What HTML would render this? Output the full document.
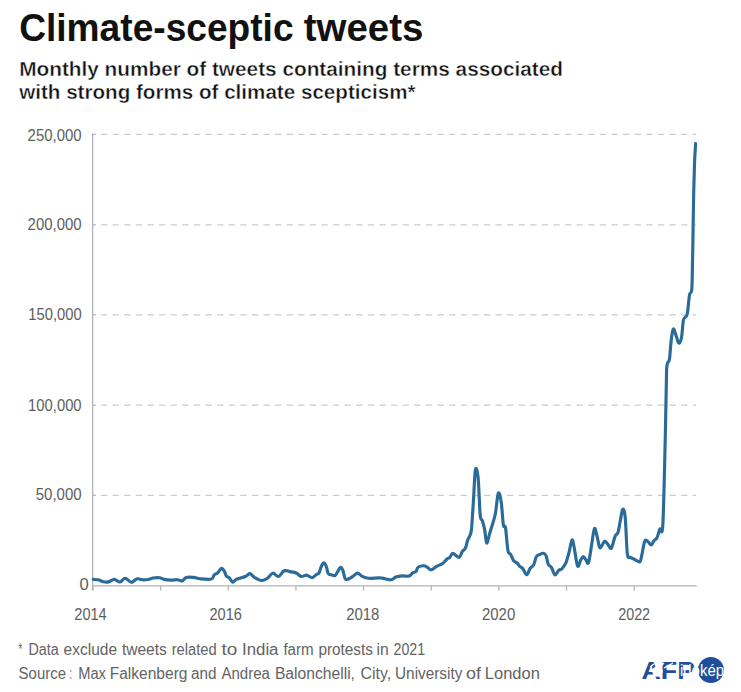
<!DOCTYPE html>
<html><head><meta charset="utf-8">
<style>
html,body{margin:0;padding:0;background:#fff;}
body{width:741px;height:692px;position:relative;overflow:hidden;font-family:"Liberation Sans",sans-serif;}
svg{position:absolute;left:0;top:0;}
</style></head><body>
<svg width="741" height="692" viewBox="0 0 741 692">
<g font-family="Liberation Sans, sans-serif" font-weight="bold" fill="#111">
<g font-size="38.3"><text x="19.20" y="41.00" textLength="274.37" lengthAdjust="spacingAndGlyphs">Climate-sceptic</text><text x="303.70" y="41.00" textLength="119.69" lengthAdjust="spacingAndGlyphs">tweets</text></g>
<text x="19.2" y="75.9" font-size="20" stroke="#fff" stroke-width="0.4" textLength="543.8" lengthAdjust="spacingAndGlyphs">Monthly number of tweets containing terms associated</text>
<text x="19.2" y="99.2" font-size="20" stroke="#fff" stroke-width="0.4" textLength="396.3" lengthAdjust="spacingAndGlyphs">with strong forms of climate scepticism*</text>
</g>
<g stroke="#cccccc" stroke-width="1.15" stroke-dasharray="6.3 5.3"><line x1="101.05" y1="134.4" x2="696" y2="134.4"/><line x1="101.05" y1="224.9" x2="696" y2="224.9"/><line x1="101.05" y1="314.8" x2="696" y2="314.8"/><line x1="101.05" y1="405.1" x2="696" y2="405.1"/><line x1="101.05" y1="495.3" x2="696" y2="495.3"/></g>
<g stroke="#b3b3b3" stroke-width="1.3">
<line x1="92.6" y1="133.5" x2="92.6" y2="590.5"/>
<line x1="92" y1="585.8" x2="696.8" y2="585.8"/>
<line x1="92.9" y1="585.8" x2="92.9" y2="590.5"/><line x1="160.6" y1="585.8" x2="160.6" y2="590.5"/><line x1="228.2" y1="585.8" x2="228.2" y2="590.5"/><line x1="295.9" y1="585.8" x2="295.9" y2="590.5"/><line x1="363.5" y1="585.8" x2="363.5" y2="590.5"/><line x1="431.2" y1="585.8" x2="431.2" y2="590.5"/><line x1="498.9" y1="585.8" x2="498.9" y2="590.5"/><line x1="566.5" y1="585.8" x2="566.5" y2="590.5"/><line x1="634.2" y1="585.8" x2="634.2" y2="590.5"/>
<line x1="92.6" y1="134.4" x2="95.8" y2="134.4"/><line x1="92.6" y1="224.9" x2="95.8" y2="224.9"/><line x1="92.6" y1="314.8" x2="95.8" y2="314.8"/><line x1="92.6" y1="405.1" x2="95.8" y2="405.1"/><line x1="92.6" y1="495.3" x2="95.8" y2="495.3"/>
</g>
<g font-family="Liberation Sans, sans-serif" font-size="16.6" fill="#5e5e5e"><text x="81.6" y="141.2" text-anchor="end" textLength="54.0" lengthAdjust="spacingAndGlyphs">250,000</text><text x="81.6" y="230.3" text-anchor="end" textLength="54.0" lengthAdjust="spacingAndGlyphs">200,000</text><text x="81.6" y="319.5" text-anchor="end" textLength="53.3" lengthAdjust="spacingAndGlyphs">150,000</text><text x="81.6" y="411.4" text-anchor="end" textLength="53.5" lengthAdjust="spacingAndGlyphs">100,000</text><text x="81.6" y="499.9" text-anchor="end" textLength="45.9" lengthAdjust="spacingAndGlyphs">50,000</text><text x="88.8" y="589.6" text-anchor="end">0</text></g>
<g font-family="Liberation Sans, sans-serif" font-size="16.2" fill="#5e5e5e"><text x="74.30" y="620.20" textLength="32.40" lengthAdjust="spacingAndGlyphs">2014</text><text x="209.50" y="620.20" textLength="32.40" lengthAdjust="spacingAndGlyphs">2016</text><text x="346.20" y="620.20" textLength="33.20" lengthAdjust="spacingAndGlyphs">2018</text><text x="482.00" y="620.20" textLength="33.20" lengthAdjust="spacingAndGlyphs">2020</text><text x="618.20" y="620.20" textLength="31.90" lengthAdjust="spacingAndGlyphs">2022</text></g>
<path d="M93.4,579.4 C94.2,579.5 96.4,579.4 98.1,579.8 C99.8,580.2 101.7,581.4 103.4,581.7 C105.2,582.1 106.8,582.3 108.6,581.9 C110.4,581.5 112.4,579.3 114.3,579.3 C116.2,579.3 118.2,582.2 120.0,582.0 C121.8,581.8 123.3,578.2 125.2,578.2 C127.1,578.2 129.3,582.2 131.3,582.3 C133.3,582.4 135.1,579.2 137.0,578.8 C138.9,578.4 140.6,579.7 142.6,579.8 C144.6,579.9 147.3,579.6 149.1,579.3 C150.8,579.0 151.3,578.3 153.1,578.0 C154.8,577.7 157.7,577.5 159.6,577.7 C161.5,577.9 162.5,579.0 164.4,579.4 C166.3,579.8 168.7,580.0 170.9,580.1 C173.1,580.2 175.5,579.6 177.4,579.7 C179.3,579.8 180.7,581.3 182.2,580.9 C183.7,580.5 184.4,578.0 186.3,577.4 C188.2,576.8 191.3,577.2 193.6,577.4 C195.9,577.6 197.1,578.5 200.1,578.8 C203.1,579.1 209.0,579.8 211.3,579.1 C213.7,578.4 213.2,575.8 214.2,574.8 C215.2,573.8 216.2,574.3 217.4,573.2 C218.6,572.1 220.3,568.7 221.5,568.4 C222.7,568.1 223.5,569.9 224.3,571.2 C225.1,572.5 225.5,574.9 226.3,576.0 C227.1,577.1 228.0,576.7 229.1,577.7 C230.2,578.7 231.6,581.8 232.8,582.1 C234.0,582.4 234.3,580.2 236.4,579.3 C238.5,578.4 243.1,577.5 245.3,576.5 C247.5,575.5 248.3,573.5 249.8,573.6 C251.3,573.7 252.4,576.1 254.3,577.3 C256.2,578.4 259.0,580.3 261.1,580.5 C263.2,580.7 265.2,579.7 267.1,578.5 C269.1,577.3 270.9,573.5 272.8,573.2 C274.7,572.9 276.6,576.9 278.5,576.5 C280.4,576.1 282.2,571.6 284.1,570.8 C286.0,570.0 287.8,571.2 289.8,571.6 C291.8,572.0 294.4,572.2 296.3,573.0 C298.2,573.8 299.4,576.1 301.2,576.5 C302.9,576.9 305.0,575.0 306.8,575.2 C308.6,575.4 310.6,577.8 312.1,577.7 C313.7,577.6 315.0,575.5 316.1,574.7 C317.2,573.9 318.2,574.1 318.9,573.1 C319.6,572.1 319.8,570.3 320.5,568.6 C321.2,566.9 322.4,563.4 323.4,563.0 C324.3,562.6 325.4,564.5 326.2,566.2 C327.0,568.0 327.4,572.1 328.2,573.5 C329.0,574.9 330.0,574.4 331.1,574.7 C332.2,575.0 334.0,576.0 335.1,575.5 C336.2,575.0 336.6,573.2 337.5,571.9 C338.4,570.5 339.5,567.7 340.4,567.4 C341.3,567.1 342.0,568.3 342.8,570.2 C343.6,572.1 344.3,577.2 345.2,578.7 C346.1,580.2 346.9,579.4 348.1,579.1 C349.3,578.8 350.9,577.7 352.5,576.7 C354.1,575.7 355.8,573.2 357.4,573.1 C359.0,573.0 360.3,575.4 362.2,576.3 C364.1,577.2 366.0,578.0 369.0,578.3 C372.0,578.6 376.8,577.6 380.4,577.9 C384.0,578.1 388.3,579.9 390.9,579.8 C393.5,579.7 393.9,577.8 395.8,577.1 C397.7,576.5 400.0,576.1 402.2,575.9 C404.4,575.7 407.3,576.6 409.1,576.1 C410.9,575.6 411.7,573.5 412.8,572.7 C413.9,571.9 415.1,572.5 416.0,571.5 C416.9,570.5 416.9,567.9 418.4,567.0 C419.9,566.1 423.1,565.5 425.2,566.0 C427.3,566.5 428.9,569.7 430.8,569.8 C432.7,569.9 434.5,567.5 436.5,566.4 C438.5,565.3 441.3,564.5 443.0,563.3 C444.7,562.1 445.8,560.0 446.9,559.0 C448.0,558.0 448.9,558.2 449.9,557.3 C450.9,556.4 451.4,553.4 452.9,553.4 C454.4,553.4 457.4,557.7 459.0,557.3 C460.6,556.9 461.4,552.8 462.5,551.2 C463.6,549.7 464.6,549.9 465.5,548.0 C466.4,546.1 466.9,542.1 467.7,540.0 C468.5,537.9 469.5,537.1 470.1,535.1 C470.8,533.1 471.0,534.4 471.6,527.9 C472.2,521.4 473.1,505.8 473.7,496.1 C474.3,486.4 474.7,472.7 475.4,469.6 C476.1,466.5 477.3,469.8 478.1,477.3 C478.9,484.9 479.5,507.7 480.2,514.9 C480.9,522.1 481.7,518.3 482.4,520.7 C483.1,523.1 483.9,525.7 484.6,529.4 C485.3,533.1 485.9,542.3 486.7,543.0 C487.5,543.7 488.6,536.8 489.6,533.7 C490.6,530.6 491.5,527.7 492.5,524.3 C493.5,520.9 494.4,518.7 495.4,513.5 C496.4,508.3 497.3,495.2 498.3,493.3 C499.3,491.4 500.4,496.6 501.2,501.9 C502.0,507.2 502.7,520.7 503.4,525.0 C504.1,529.3 504.7,523.6 505.5,527.9 C506.3,532.2 507.1,546.4 508.0,550.8 C508.9,555.2 509.7,552.6 510.6,554.3 C511.6,556.0 512.6,559.3 513.7,560.8 C514.8,562.2 516.1,562.1 517.1,563.0 C518.1,563.9 518.8,565.5 519.7,566.4 C520.7,567.3 521.6,567.2 522.8,568.6 C524.0,570.0 525.5,574.9 526.7,574.8 C527.9,574.7 529.1,569.8 530.2,568.2 C531.4,566.6 532.6,567.0 533.6,565.1 C534.6,563.2 535.2,558.7 536.2,556.9 C537.2,555.1 538.5,555.1 539.7,554.5 C540.9,553.9 542.5,553.0 543.6,553.3 C544.7,553.5 545.4,554.1 546.2,556.0 C547.0,557.9 547.5,562.8 548.4,564.7 C549.3,566.6 550.3,565.6 551.4,567.3 C552.5,569.0 553.7,574.3 554.9,574.8 C556.1,575.3 557.6,571.3 558.8,570.3 C559.9,569.3 560.8,570.0 561.8,569.0 C562.8,568.0 564.2,565.8 565.0,564.5 C565.8,563.2 565.8,563.3 566.5,561.2 C567.2,559.1 568.2,555.6 569.1,552.1 C570.0,548.6 571.1,540.6 572.0,540.0 C572.9,539.4 573.4,543.9 574.3,548.2 C575.2,552.5 576.5,564.0 577.6,566.0 C578.7,568.0 579.8,561.5 580.8,559.9 C581.8,558.3 582.5,556.6 583.4,556.6 C584.3,556.6 585.1,558.9 586.0,559.9 C586.9,560.9 587.6,565.3 588.6,562.5 C589.6,559.7 590.9,548.7 591.9,543.0 C592.9,537.3 593.6,529.6 594.5,528.5 C595.4,527.4 596.2,533.2 597.1,536.4 C598.0,539.6 598.8,546.1 599.7,547.5 C600.6,548.9 601.4,546.0 602.3,544.9 C603.2,543.8 603.9,541.0 604.9,541.0 C605.9,541.0 607.1,543.7 608.2,544.9 C609.3,546.1 610.2,549.6 611.4,548.2 C612.5,546.8 614.0,538.9 615.1,536.3 C616.2,533.7 617.2,535.0 618.0,532.6 C618.8,530.2 619.3,525.7 620.1,521.8 C620.9,517.9 621.9,510.0 622.7,509.3 C623.6,508.6 624.4,510.1 625.2,517.5 C626.0,524.9 626.5,547.0 627.3,553.6 C628.1,560.2 629.1,556.3 630.2,557.2 C631.3,558.1 632.8,558.5 633.9,559.1 C635.0,559.7 635.7,560.2 636.7,560.6 C637.7,561.0 639.2,562.5 640.1,561.6 C641.0,560.7 641.0,558.5 641.8,555.1 C642.6,551.7 643.7,543.6 644.7,541.3 C645.7,539.0 646.5,540.7 647.6,541.3 C648.7,541.9 650.1,545.0 651.2,544.9 C652.3,544.8 653.1,541.8 654.1,540.6 C655.1,539.4 656.0,539.6 657.0,537.7 C658.0,535.8 658.9,531.0 659.9,529.0 C660.9,527.0 661.9,538.7 662.8,525.4 C663.6,512.1 664.4,473.6 665.0,449.4 C665.6,425.2 666.1,393.7 666.4,380.0 C666.7,366.3 666.5,370.0 666.8,367.1 C667.0,364.2 667.4,363.8 667.9,362.4 C668.4,361.0 669.0,362.6 669.5,359.0 C670.0,355.4 670.6,345.5 671.2,340.5 C671.8,335.5 672.5,330.0 673.3,329.0 C674.1,328.0 674.9,332.4 675.8,334.7 C676.7,337.0 677.8,342.4 678.7,343.0 C679.6,343.6 680.6,341.9 681.4,338.2 C682.2,334.5 682.7,324.3 683.3,320.8 C683.9,317.3 684.4,318.5 685.1,317.3 C685.8,316.1 686.6,317.5 687.3,313.8 C688.0,310.1 688.8,298.9 689.5,295.0 C690.2,291.1 691.1,294.3 691.6,290.7 C692.1,287.1 692.1,282.7 692.3,273.4 C692.5,264.1 692.8,248.4 693.0,235.0 C693.2,221.6 693.5,204.7 693.7,192.8 C694.0,181.0 694.2,172.1 694.5,163.9 C694.8,155.7 695.4,147.0 695.6,143.6" fill="none" stroke="#2a6b99" stroke-width="3.15" stroke-linejoin="round" stroke-linecap="round"/>
<g font-family="Liberation Sans, sans-serif" font-size="15.8" fill="#636363">
<text x="18.60" y="655.00" textLength="3.69" lengthAdjust="spacingAndGlyphs">*</text><text x="28.40" y="655.00" textLength="30.26" lengthAdjust="spacingAndGlyphs">Data</text><text x="63.60" y="655.00" textLength="53.43" lengthAdjust="spacingAndGlyphs">exclude</text><text x="121.90" y="655.00" textLength="44.90" lengthAdjust="spacingAndGlyphs">tweets</text><text x="171.70" y="655.00" textLength="45.07" lengthAdjust="spacingAndGlyphs">related</text><text x="221.40" y="655.00" textLength="15.78" lengthAdjust="spacingAndGlyphs">to</text><text x="242.00" y="655.00" textLength="36.48" lengthAdjust="spacingAndGlyphs">India</text><text x="283.40" y="655.00" textLength="30.30" lengthAdjust="spacingAndGlyphs">farm</text><text x="318.40" y="655.00" textLength="54.53" lengthAdjust="spacingAndGlyphs">protests</text><text x="376.50" y="655.00" textLength="12.17" lengthAdjust="spacingAndGlyphs">in</text><text x="393.50" y="655.00" textLength="31.60" lengthAdjust="spacingAndGlyphs">2021</text>
<text x="18.60" y="679.30" textLength="47.38" lengthAdjust="spacingAndGlyphs">Source</text><text x="69.40" y="679.30" textLength="2.48" lengthAdjust="spacingAndGlyphs">:</text><text x="78.20" y="679.30" textLength="27.79" lengthAdjust="spacingAndGlyphs">Max</text><text x="109.70" y="679.30" textLength="77.77" lengthAdjust="spacingAndGlyphs">Falkenberg</text><text x="191.10" y="679.30" textLength="25.48" lengthAdjust="spacingAndGlyphs">and</text><text x="221.40" y="679.30" textLength="48.52" lengthAdjust="spacingAndGlyphs">Andrea</text><text x="274.90" y="679.30" textLength="80.09" lengthAdjust="spacingAndGlyphs">Balonchelli,</text><text x="360.50" y="679.30" textLength="30.71" lengthAdjust="spacingAndGlyphs">City,</text><text x="395.00" y="679.30" textLength="67.40" lengthAdjust="spacingAndGlyphs">University</text><text x="466.10" y="679.30" textLength="14.98" lengthAdjust="spacingAndGlyphs">of</text><text x="484.80" y="679.30" textLength="55.03" lengthAdjust="spacingAndGlyphs">London</text>
</g>
<g>
<circle cx="710.9" cy="670" r="13" fill="#1f4f9a"/>
<text x="641.5" y="679.4" font-family="Liberation Sans, sans-serif" font-weight="bold" font-size="24.5" fill="#1f4f9a" textLength="53.5" lengthAdjust="spacingAndGlyphs">AFP</text>
<circle cx="657.5" cy="671.5" r="5.2" fill="#fff"/>
<path d="M650,667 L654,664 M657,664 L657,660 M661,666 L664,663 M664,668 L673,663" stroke="#fff" stroke-width="1.4"/>
<text x="680" y="675.6" font-family="Liberation Sans, sans-serif" font-size="17" fill="#fff" textLength="44" lengthAdjust="spacingAndGlyphs">időkép</text>
</g>
</svg>
</body></html>
